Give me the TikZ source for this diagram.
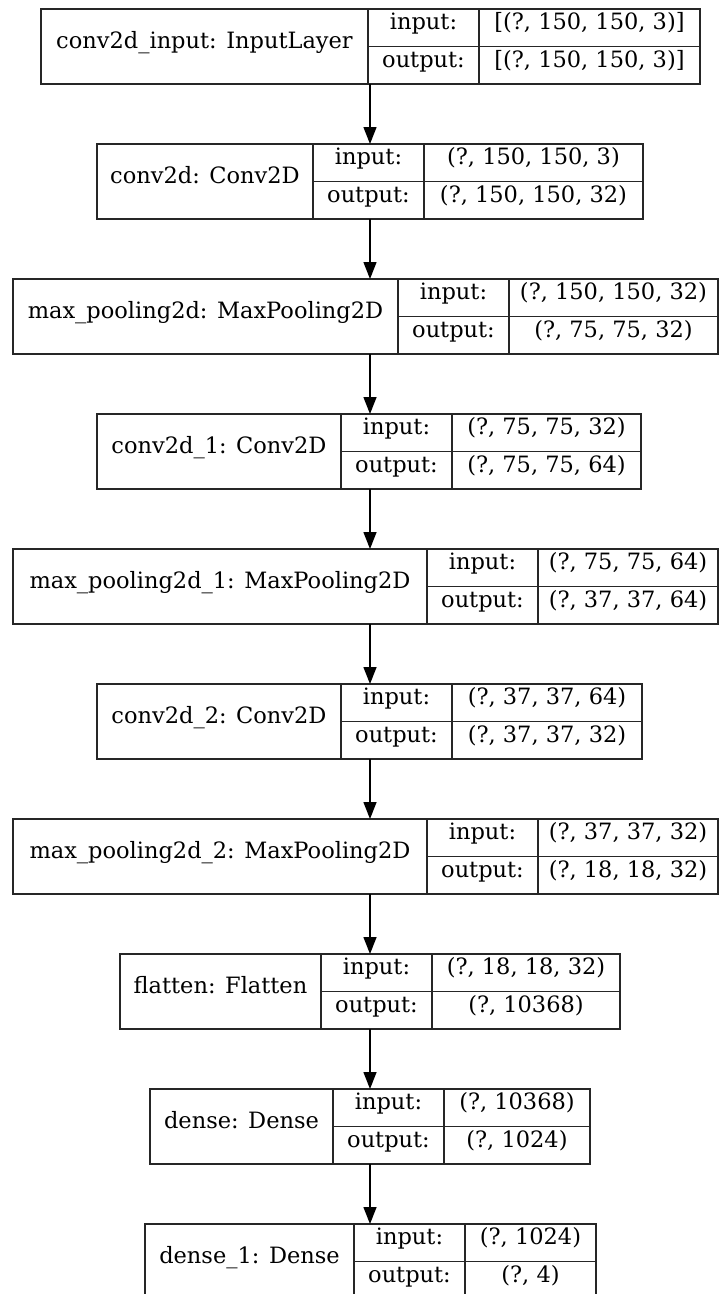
\documentclass[tikz,border=0pt]{standalone}
\usepackage{fontspec}
\setmainfont{DejaVu Serif}
\usetikzlibrary{arrows.meta}
\tikzstyle{layer} = [rectangle, draw=black!85, line width=1.4pt, minimum height=75pt, inner sep=0pt, outer sep=0pt, anchor=north west]
\tikzstyle{cell} = [inner sep=0pt, text height=0.7em, text depth=0.32em, font=\fontsize{22.5}{27}\selectfont]
\tikzstyle{rule} = [draw=black!85, line width=1.4pt]
\tikzstyle{flow} = [draw=black, line width=1.4pt, -{Triangle[length=17pt,width=13pt]}]

% name, top, left, split1, split2, right, title, input, output
\newcommand{\keraslayer}[9]{%
  \node (#1) [layer, minimum width={(#6-#3)*1pt}] at (#3,-#2) {};
  \node (#1-name) [cell] at ({(#3+#4)/2},{-#2-37.5}) {#7};
  \node (#1-inl) [cell] at ({(#4+#5)/2},{-#2-18.75}) {input:};
  \node (#1-outl) [cell] at ({(#4+#5)/2},{-#2-56.25}) {output:};
  \node (#1-in) [cell] at ({(#5+#6)/2},{-#2-18.75}) {#8};
  \node (#1-out) [cell] at ({(#5+#6)/2},{-#2-56.25}) {#9};
  \draw[rule] (#4,-#2) -- (#4,{-#2-75}) (#5,-#2) -- (#5,{-#2-75})
    (#4,{-#2-37.5}) -- (#6,{-#2-37.5});
}

\begin{document}
\begin{tikzpicture}[x=1pt, y=1pt]
  \useasboundingbox (0,0) rectangle (718,-1294);
  \coordinate (axis) at (370,0);

  \keraslayer{input}{9}{41}{368}{479}{700}{conv2d\_input: InputLayer}{[(?, 150, 150, 3)]}{[(?, 150, 150, 3)]}
  \keraslayer{conv}{144}{97}{313}{424}{643}{conv2d: Conv2D}{(?, 150, 150, 3)}{(?, 150, 150, 32)}
  \keraslayer{pool}{279}{13}{398}{509}{718}{max\_pooling2d: MaxPooling2D}{(?, 150, 150, 32)}{(?, 75, 75, 32)}
  \keraslayer{conv1}{414}{97}{341}{452}{641}{conv2d\_1: Conv2D}{(?, 75, 75, 32)}{(?, 75, 75, 64)}
  \keraslayer{pool1}{549}{13}{427}{538}{718}{max\_pooling2d\_1: MaxPooling2D}{(?, 75, 75, 64)}{(?, 37, 37, 64)}
  \keraslayer{conv2}{684}{97}{341}{452}{642}{conv2d\_2: Conv2D}{(?, 37, 37, 64)}{(?, 37, 37, 32)}
  \keraslayer{pool2}{819}{13}{427}{538}{718}{max\_pooling2d\_2: MaxPooling2D}{(?, 37, 37, 32)}{(?, 18, 18, 32)}
  \keraslayer{flatten}{954}{120}{321}{432}{620}{flatten: Flatten}{(?, 18, 18, 32)}{(?, 10368)}
  \keraslayer{dense}{1089}{150}{333}{444}{590}{dense: Dense}{(?, 10368)}{(?, 1024)}
  \keraslayer{dense1}{1224}{145}{354}{465}{596}{dense\_1: Dense}{(?, 1024)}{(?, 4)}

  % connections
  \draw[flow] (input.south -| axis) -- (conv.north -| axis);
  \draw[flow] (conv.south -| axis) -- (pool.north -| axis);
  \draw[flow] (pool.south -| axis) -- (conv1.north -| axis);
  \draw[flow] (conv1.south -| axis) -- (pool1.north -| axis);
  \draw[flow] (pool1.south -| axis) -- (conv2.north -| axis);
  \draw[flow] (conv2.south -| axis) -- (pool2.north -| axis);
  \draw[flow] (pool2.south -| axis) -- (flatten.north -| axis);
  \draw[flow] (flatten.south -| axis) -- (dense.north -| axis);
  \draw[flow] (dense.south -| axis) -- (dense1.north -| axis);
\end{tikzpicture}
\end{document}
